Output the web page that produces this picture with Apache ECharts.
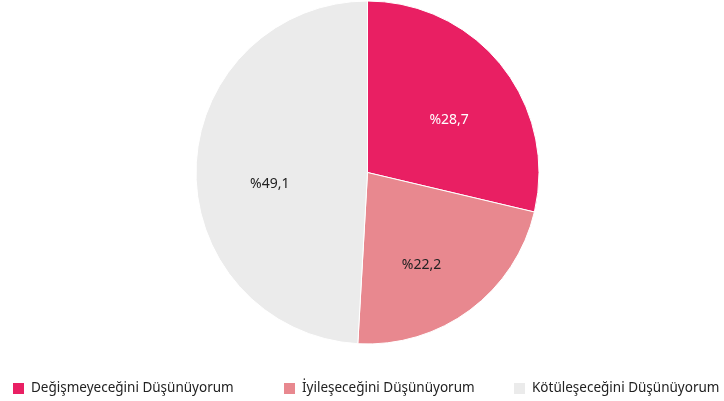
<!DOCTYPE html>
<html><head><meta charset="utf-8">
<script src="https://cdn.jsdelivr.net/npm/echarts@6/dist/echarts.min.js"></script>
<style>html,body{margin:0;padding:0;background:#fff}#c{width:724px;height:401px}</style>
</head><body><div id="c"></div>
<script>
const categories = ["Değişmeyeceğini Düşünüyorum", "İyileşeceğini Düşünüyorum", "Kötüleşeceğini Düşünüyorum"];
const values = [28.7, 22.2, 49.1];
const colors = ["#E91F63", "#E8888F", "#EBEBEB"];
const labelColors = ["#ffffff", "#222222", "#222222"];
const labelShift = [[12, 3], [1, 21], [-9, 14]];
const legendLeft = [11, 282, 512];

const chart = echarts.init(document.getElementById('c'));
const font = '"Noto Sans", Lato, sans-serif';
chart.setOption({
  animation: false,
  textStyle: { fontFamily: font },
  legend: categories.map((c, i) => ({
    data: [c], left: legendLeft[i], top: 381, padding: 0, itemWidth: 13, itemHeight: 13, itemGap: 8,
    icon: 'rect', textStyle: { fontSize: 13.5, color: '#222', fontFamily: font, padding: [0, 0, 0, 1] }
  })),
  series: [{
    type: 'pie', center: [367.5, 172.5], radius: [0, 171.5], startAngle: 90, clockwise: true,
    itemStyle: { borderColor: '#fff', borderWidth: 1 },
    label: { position: 'inside', fontSize: 14, fontFamily: font,
      formatter: p => '%' + String(p.value).replace('.', ',') },
    labelLayout: p => ({ dx: labelShift[p.dataIndex][0], dy: labelShift[p.dataIndex][1] }),
    labelLine: { show: false },
    emphasis: { disabled: true },
    data: categories.map((c, i) => ({ name: c, value: values[i],
      itemStyle: { color: colors[i] }, label: { color: labelColors[i] } }))
  }]
});
</script></body></html>
